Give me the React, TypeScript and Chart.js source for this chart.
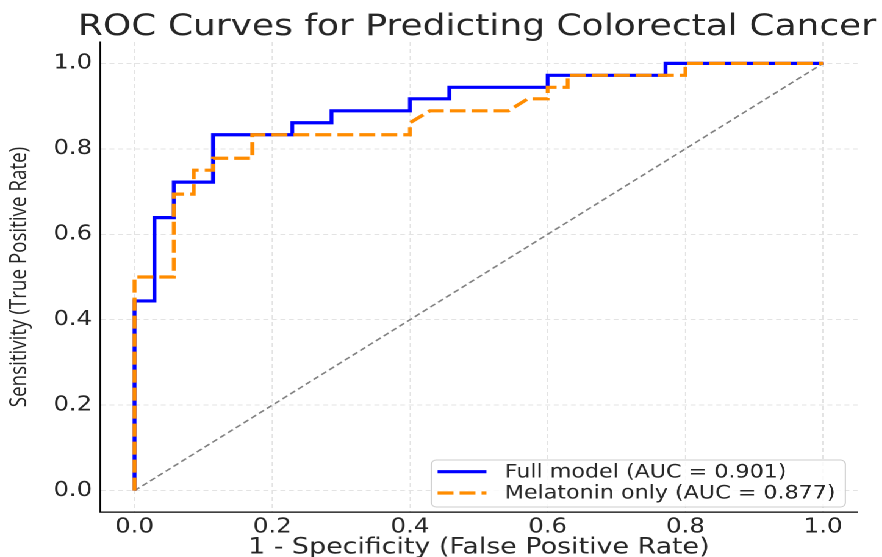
import { useEffect, useRef } from "react";
import { Chart, registerables } from "chart.js";

Chart.register(...registerables);

// ---- data ----
const fullFpr = [0, 0, 0.029, 0.029, 0.057, 0.057, 0.114, 0.114, 0.229, 0.229, 0.286, 0.286, 0.4, 0.4, 0.457, 0.457, 0.6, 0.6, 0.771, 0.771, 1.0];
const fullTpr = [0, 0.444, 0.444, 0.639, 0.639, 0.722, 0.722, 0.833, 0.833, 0.861, 0.861, 0.889, 0.889, 0.917, 0.917, 0.944, 0.944, 0.972, 0.972, 1.0, 1.0];

const melFpr = [0, 0, 0.057, 0.057, 0.086, 0.086, 0.114, 0.114, 0.171, 0.171, 0.4, 0.4, 0.429, 0.543, 0.571, 0.6, 0.6, 0.629, 0.629, 0.8, 0.8, 1.0];
const melTpr = [0, 0.5, 0.5, 0.694, 0.694, 0.75, 0.75, 0.778, 0.778, 0.833, 0.833, 0.861, 0.889, 0.889, 0.917, 0.917, 0.944, 0.944, 0.972, 0.972, 1.0, 1.0];

const chanceFpr = [0, 1];
const chanceTpr = [0, 1];

const tickValues = [0, 0.2, 0.4, 0.6, 0.8, 1.0];
const seriesLabels = ["Full model (AUC = 0.901)", "Melatonin only (AUC = 0.877)"];
const chartTitle = "ROC Curves for Predicting Colorectal Cancer";
const xTitle = "1 - Specificity (False Positive Rate)";
const yTitle = "Sensitivity (True Positive Rate)";

const STRETCH = 1.22; // the reference is horizontally stretched
const W = 882 / STRETCH;
const H = 557;

const toPoints = (xs: number[], ys: number[]) => xs.map((x, i) => ({ x, y: ys[i] }));

const titlePlugin = {
  id: "axesTitle",
  afterDraw(chart: any) {
    const { ctx, chartArea } = chart;
    ctx.save();
    ctx.font = '29.5px "DejaVu Sans"';
    ctx.fillStyle = "#262626";
    ctx.textAlign = "center";
    ctx.textBaseline = "alphabetic";
    ctx.fillText(chartTitle, (chartArea.left + chartArea.right) / 2 - 1.5, 35);
    ctx.restore();
  },
};

const legendPlugin = {
  id: "boxLegend",
  afterDatasetsDraw(chart: any) {
    const { ctx, chartArea } = chart;
    const ds = chart.data.datasets;
    ctx.save();
    ctx.font = '18.2px "DejaVu Sans"';
    const maxW = Math.max(...seriesLabels.map((t) => ctx.measureText(t).width));
    const w = 5 + 40 + 15 + maxW + 8;
    const h = 47;
    const x = chartArea.right - 10 - w;
    const y = chartArea.bottom - 5 - h;
    ctx.beginPath();
    (ctx as any).roundRect(x, y, w, h, 4);
    ctx.fillStyle = "rgba(255,255,255,0.8)";
    ctx.fill();
    ctx.strokeStyle = "#cccccc";
    ctx.lineWidth = 1;
    ctx.stroke();
    [0, 1].forEach((i) => {
      const d = ds[i];
      const cy = y + 11.7 + i * 21.3;
      ctx.beginPath();
      ctx.setLineDash(d.borderDash || []);
      ctx.strokeStyle = d.borderColor;
      ctx.lineWidth = d.borderWidth;
      ctx.moveTo(x + 5, cy);
      ctx.lineTo(x + 45, cy);
      ctx.stroke();
      ctx.setLineDash([]);
      ctx.fillStyle = "#262626";
      ctx.textAlign = "left";
      ctx.textBaseline = "middle";
      ctx.fillText(d.label, x + 60, cy + 1);
    });
    ctx.restore();
  },
};

export default function App() {
  const ref = useRef<HTMLCanvasElement>(null);
  useEffect(() => {
    if (!ref.current) return;
    const tickFont = { family: "DejaVu Sans", size: 20 };
    const grid = { color: "#e3e3e3", lineWidth: 1, drawTicks: false, tickLength: 0 };
    const chart = new Chart(ref.current, {
      type: "scatter",
      data: {
        datasets: [
          {
            label: seriesLabels[0],
            data: toPoints(fullFpr, fullTpr),
            showLine: true,
            borderColor: "#0000ff",
            backgroundColor: "#0000ff",
            borderWidth: 3.2,
            pointRadius: 0,
            tension: 0,
            order: 2,
          },
          {
            label: seriesLabels[1],
            data: toPoints(melFpr, melTpr),
            showLine: true,
            borderColor: "#ff8c00",
            backgroundColor: "#ff8c00",
            borderWidth: 3.2,
            borderDash: [13, 5],
            pointRadius: 0,
            tension: 0,
            order: 1,
          },
          {
            label: "chance",
            data: toPoints(chanceFpr, chanceTpr),
            showLine: true,
            borderColor: "#808080",
            borderWidth: 1.5,
            borderDash: [5, 3],
            pointRadius: 0,
            order: 3,
          },
        ],
      } as any,
      options: {
        animation: false,
        responsive: true,
        maintainAspectRatio: false,
        devicePixelRatio: 2,
        layout: { padding: { top: 42, right: 20.5, left: 0, bottom: 0 } },
        plugins: { legend: { display: false }, tooltip: { enabled: false }, title: { display: false } },
        scales: {
          x: {
            type: "linear",
            min: -0.05,
            max: 1.05,
            afterBuildTicks: (s: any) => {
              s.ticks = tickValues.map((v) => ({ value: v }));
            },
            afterFit: (s: any) => {
              s.height = 45;
            },
            ticks: { callback: (v: any) => Number(v).toFixed(1), font: tickFont, color: "#262626", padding: 3.5, maxRotation: 0 },
            grid,
            border: { display: true, color: "#000", width: 1.2, dash: [4, 3] },
            title: { display: true, text: xTitle, font: { family: "DejaVu Sans", size: 22 }, color: "#262626", padding: { top: 0, bottom: -4 } },
          },
          y: {
            type: "linear",
            min: -0.05,
            max: 1.05,
            afterBuildTicks: (s: any) => {
              s.ticks = tickValues.map((v) => ({ value: v }));
            },
            afterFit: (s: any) => {
              s.width = 82;
            },
            ticks: { callback: (v: any) => Number(v).toFixed(1), font: tickFont, color: "#262626", padding: 6.5 },
            grid,
            border: { display: true, color: "#000", width: 1.2, dash: [4, 3] },
            title: { display: true, text: yTitle, font: { family: "Open Sans", size: 18.8 }, color: "#262626", padding: { top: 5, bottom: 0 } },
          },
        },
      } as any,
      plugins: [titlePlugin, legendPlugin],
    });
    return () => chart.destroy();
  }, []);

  return (
    <div
      style={{
        position: "absolute",
        left: 0,
        top: 0,
        width: W,
        height: H,
        transform: `scaleX(${STRETCH})`,
        transformOrigin: "0 0",
        background: "#fff",
      }}
    >
      <canvas ref={ref} style={{ display: "block" }} />
    </div>
  );
}
